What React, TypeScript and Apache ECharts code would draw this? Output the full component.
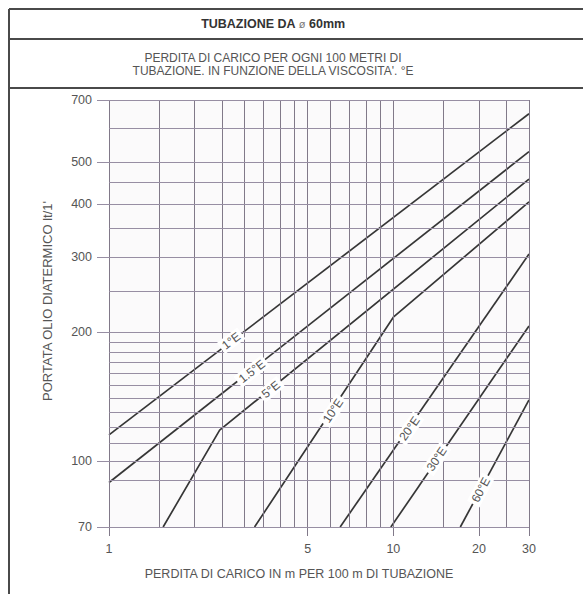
import React, { useEffect, useRef } from 'react';
import * as echarts from 'echarts';

// Axis grid and tick values
const xGridValues = [1, 1.5, 2, 2.5, 3, 3.5, 4, 4.5, 5, 6, 7, 8, 9, 10, 15, 20, 25, 30];
const yGridValues = [70, 90, 100, 110, 120, 130, 140, 150, 160, 170, 180, 190, 200, 250, 300, 350, 400, 450, 500, 600, 700];
const xTickLabels = [1, 5, 10, 20, 30];
const yTickLabels = [70, 100, 200, 300, 400, 500, 700];

// Curves: [perdita di carico (m/100m), portata (lt/1')]
const visc1 = [[1, 115], [30, 650]];
const visc15 = [[1, 89], [30, 530]];
const visc5 = [[1.55, 70], [2.45, 118], [30, 457]];
const visc10 = [[3.25, 70], [10, 217], [30, 404]];
const visc20 = [[6.5, 70], [30, 305]];
const visc30 = [[9.8, 70], [30, 207]];
const visc60 = [[17.2, 70], [30, 139]];

const curveNames = ['1°E', '1.5°E', '5°E', '10°E', '20°E', '30°E', '60°E'];
const curveData = [visc1, visc15, visc5, visc10, visc20, visc30, visc60];
// where each curve's name sits on it
const labelPositions = [[2.69, 191], [3.18, 162], [3.71, 147], [6.14, 131], [11.4, 119], [14.2, 101], [20.3, 85.5]];
const labelAngles = [37, 38, 39, 56, 55, 56, 62];

const titleText = 'TUBAZIONE DA ';
const titleSymbol = 'ø';
const titleSize = ' 60mm';
const subtitleLines = ['PERDITA DI CARICO PER OGNI 100 METRI DI', "TUBAZIONE. IN FUNZIONE DELLA VISCOSITA'. °E"];
const yName = "PORTATA OLIO DIATERMICO lt/1'";
const xName = 'PERDITA DI CARICO IN m PER 100 m DI TUBAZIONE';

const FONT = '"Liberation Sans", Arial, Helvetica, sans-serif';
const TEXT = '#555';
const GRID_H = '#978ea3';
const GRID_V = '#817989';

export default function App() {
  const ref = useRef<HTMLDivElement>(null);
  useEffect(() => {
    const chart = echarts.init(ref.current as HTMLDivElement, null, { renderer: 'svg' });

    const gridLines = [
      ...xGridValues.map((v) => ({ xAxis: v, lineStyle: { color: GRID_V, width: 1, type: 'solid' } })),
      ...yGridValues.map((v) => ({ yAxis: v, lineStyle: { color: GRID_H, width: 1, type: 'solid' } })),
    ];

    const curves = curveData.map((d, i) => ({
      type: 'line',
      name: curveNames[i],
      data: d,
      symbol: 'none',
      z: 3,
      lineStyle: { color: '#363636', width: 1.7 },
      markPoint: {
        silent: true,
        symbol: 'rect',
        symbolSize: 0,
        label: {
          show: true,
          position: 'inside',
          formatter: curveNames[i],
          rotate: labelAngles[i],
          color: TEXT,
          fontFamily: FONT,
          fontSize: 12,
          backgroundColor: '#ffffff',
          padding: [1, 3],
        },
        data: [{ coord: labelPositions[i], value: curveNames[i] }],
      },
    }));

    chart.setOption({
      animation: false,
      backgroundColor: '#ffffff',
      textStyle: { fontFamily: FONT },
      grid: { left: 109, top: 100, width: 420, height: 427, show: true, backgroundColor: '#fbfafb', borderWidth: 0 },
      xAxis: {
        type: 'log',
        logBase: 10,
        min: 1,
        max: 30,
        axisLine: { show: false },
        splitLine: { show: false },
        axisTick: { show: true, customValues: xTickLabels, length: 9, lineStyle: { color: GRID_V } },
        axisLabel: { customValues: xTickLabels, color: TEXT, fontSize: 12.5, fontFamily: FONT, margin: 15 },
      },
      yAxis: {
        type: 'log',
        logBase: 10,
        min: 70,
        max: 700,
        axisLine: { show: false },
        splitLine: { show: false },
        axisTick: { show: true, customValues: yTickLabels, length: 12, lineStyle: { color: GRID_H } },
        axisLabel: { customValues: yTickLabels, color: TEXT, fontSize: 12.5, fontFamily: FONT, margin: 17 },
      },
      series: [
        {
          type: 'line',
          name: 'grid',
          data: [],
          z: 1,
          markLine: { silent: true, symbol: ['none', 'none'], label: { show: false }, data: gridLines },
        },
        ...curves,
      ],
      graphic: [
        { type: 'line', shape: { x1: 9, y1: 9, x2: 9, y2: 594 }, style: { stroke: '#4a4a4a', lineWidth: 2 } },
        { type: 'line', shape: { x1: 9, y1: 9, x2: 583, y2: 9 }, style: { stroke: '#4a4a4a', lineWidth: 2 } },
        { type: 'line', shape: { x1: 9, y1: 39, x2: 583, y2: 39 }, style: { stroke: '#4a4a4a', lineWidth: 2 } },
        { type: 'line', shape: { x1: 9, y1: 88, x2: 583, y2: 88 }, style: { stroke: '#4a4a4a', lineWidth: 2 } },
        {
          type: 'text',
          x: 273,
          y: 24,
          style: {
            text: `{b|${titleText}}{n|${titleSymbol}}{b|${titleSize}}`,
            textAlign: 'center',
            textVerticalAlign: 'middle',
            rich: {
              b: { fontFamily: FONT, fontSize: 12.5, fontWeight: 'bold', fill: '#333', color: '#333' },
              n: { fontFamily: FONT, fontSize: 11, fontWeight: 'normal', fill: '#777', color: '#777' },
            },
          },
        },
        {
          type: 'text',
          x: 273,
          y: 58,
          style: {
            text: subtitleLines[0],
            textAlign: 'center',
            textVerticalAlign: 'middle',
            fontFamily: FONT,
            fontSize: 12,
            fill: TEXT,
          },
        },
        {
          type: 'text',
          x: 273,
          y: 71,
          style: {
            text: subtitleLines[1],
            textAlign: 'center',
            textVerticalAlign: 'middle',
            fontFamily: FONT,
            fontSize: 12,
            fill: TEXT,
          },
        },
        {
          type: 'text',
          x: 47,
          y: 301,
          rotation: Math.PI / 2,
          style: {
            text: yName,
            textAlign: 'center',
            textVerticalAlign: 'middle',
            fontFamily: FONT,
            fontSize: 13,
            fill: TEXT,
          },
        },
        {
          type: 'text',
          x: 299,
          y: 574,
          style: {
            text: xName,
            textAlign: 'center',
            textVerticalAlign: 'middle',
            fontFamily: FONT,
            fontSize: 12.5,
            fill: TEXT,
          },
        },
      ],
    });

    return () => chart.dispose();
  }, []);

  return <div ref={ref} style={{ position: 'fixed', left: 0, top: 0, width: 583, height: 594 }} />;
}
